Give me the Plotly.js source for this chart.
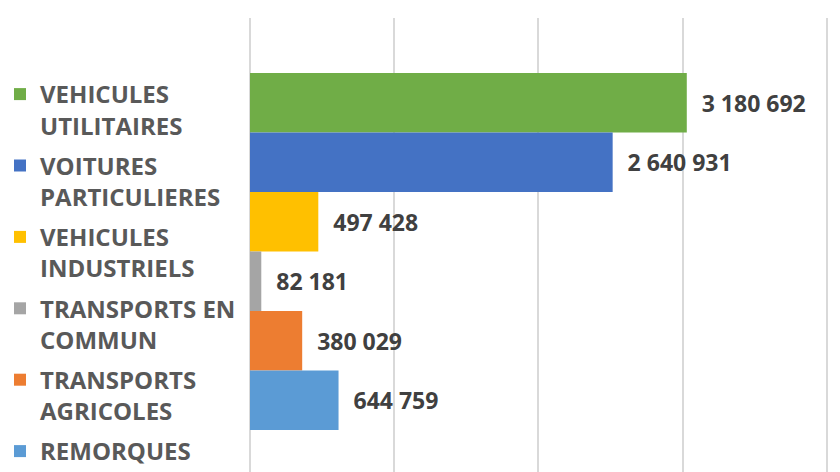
<!DOCTYPE html>
<html>
<head>
<meta charset="utf-8">
<script src="https://cdn.plot.ly/plotly-3.0.1.min.js"></script>
<style>html,body{margin:0;padding:0;background:#fff;}#chart{width:840px;height:472px;}</style>
</head>
<body>
<div id="chart"></div>
<script>
const categories = ["VEHICULES<br>UTILITAIRES", "VOITURES<br>PARTICULIERES", "VEHICULES<br>INDUSTRIELS", "TRANSPORTS EN<br>COMMUN", "TRANSPORTS<br>AGRICOLES", "REMORQUES"];
const values = [3180692, 2640931, 497428, 82181, 380029, 644759];
const colors = ["#70AD47", "#4472C4", "#FFC000", "#A5A5A5", "#ED7D31", "#5B9BD5"];
const gridValues = [0, 1050000, 2100000, 3150000, 4200000];

const traces = categories.map((name, i) => ({
  type: 'bar',
  orientation: 'h',
  name: name,
  x: [values[i]],
  y: ['Parc'],
  marker: {color: colors[i]},
  texttemplate: '\u00a0\u00a0%{x:,}',
  textposition: 'outside',
  cliponaxis: false,
  constraintext: 'none',
  textfont: {family: 'Open Sans', size: 23, color: '#404040', weight: 700},
  legendgroup: 'g' + i,
  hoverinfo: 'skip'
}));

const layout = {
  width: 840, height: 472,
  margin: {l: 250, r: 5, t: 18, b: 0},
  paper_bgcolor: '#ffffff', plot_bgcolor: '#ffffff',
  separators: ', ',
  barmode: 'group',
  bargap: 0.2355,
  bargroupgap: 0,
  showlegend: true,
  legend: {
    x: 0, xref: 'container', xanchor: 'left',
    y: 1 - 72/472, yref: 'container', yanchor: 'top',
    maxheight: 600,
    traceorder: 'grouped', tracegroupgap: 6,
    valign: 'top',
    font: {family: 'Open Sans', size: 24, color: '#595959', weight: 700},
    bgcolor: 'rgba(0,0,0,0)'
  },
  xaxis: {
    range: [0, 4260000], tickmode: 'array', tickvals: gridValues,
    showticklabels: false, ticks: '',
    showgrid: true, gridcolor: '#d9d9d9', gridwidth: 2,
    zeroline: true, zerolinecolor: '#d9d9d9', zerolinewidth: 2,
    showline: false, fixedrange: true
  },
  yaxis: {
    type: 'category',
    range: [0.4722, -0.5],
    showticklabels: false, ticks: '', showgrid: false, zeroline: false, showline: false,
    fixedrange: true
  },
  font: {family: 'Open Sans'}
};

Plotly.newPlot('chart', traces, layout, {displayModeBar: false, staticPlot: true});
</script>
</body>
</html>
